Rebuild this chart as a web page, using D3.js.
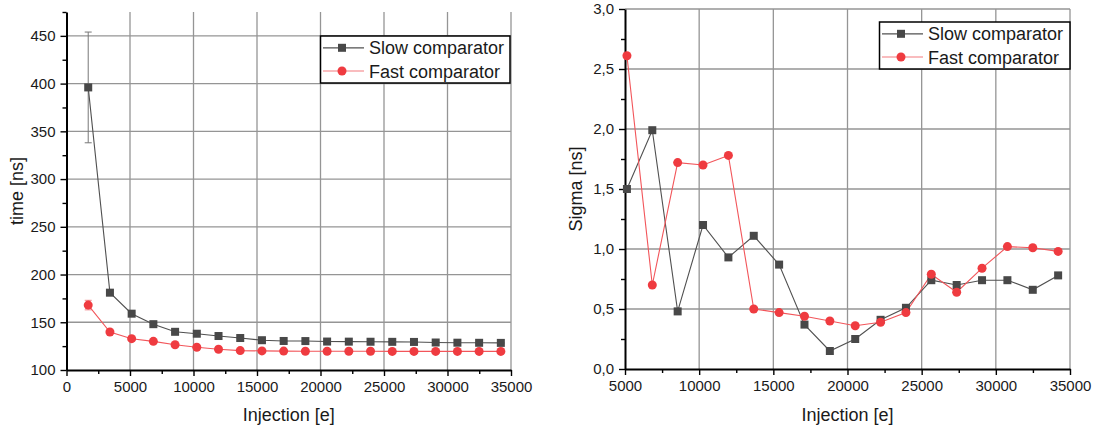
<!DOCTYPE html>
<meta charset="utf-8">
<script src="https://d3js.org/d3.v7.min.js"></script>
<style>
  body { margin: 0; background: #fff; }
  svg text { font-family: "Liberation Sans", Arial, sans-serif; fill: #1a1a1a; }
</style>
<div id="chart"></div>
<script>

  // injection values (e)
  var injection = [1710, 3420, 5130, 6840, 8550, 10260, 11970, 13680, 15390, 17100,
    18810, 20520, 22230, 23940, 25650, 27360, 29070, 30780, 32490, 34200];

  // left panel: mean time [ns]
  var timeSlow = [396, 181, 159, 148, 140, 138, 135.6, 133.5, 131.2, 130.4,
    130.3, 129.8, 129.7, 129.6, 129.5, 129.4, 128.8, 128.6, 128.5, 128.4];
  var timeFast = [168, 139.8, 132.8, 130, 126.5, 123.8, 121.7, 120.3, 120, 119.8,
    119.7, 119.6, 119.6, 119.6, 119.5, 119.5, 119.5, 119.5, 119.5, 119.5];
  var timeSlowErr = [58, 3, 1.5, 1, 1, 0.5, 0.5, 0.5, 0.5, 0.5,
    0.5, 0.5, 0.5, 0.5, 0.5, 0.5, 0.5, 0.5, 0.5, 0.5];
  var timeFastErr = [5, 1.5, 1, 1, 0.5, 0.5, 0.5, 0.5, 0.5, 0.5,
    0.5, 0.5, 0.5, 0.5, 0.5, 0.5, 0.5, 0.5, 0.5, 0.5];

  // right panel: sigma [ns] (starts at the 3rd injection value)
  var sigmaInjection = injection.slice(2);
  var sigmaSlow = [1.50, 1.99, 0.48, 1.20, 0.93, 1.11, 0.87, 0.37, 0.15, 0.25,
    0.41, 0.51, 0.74, 0.70, 0.74, 0.74, 0.66, 0.78];
  var sigmaFast = [2.61, 0.70, 1.72, 1.70, 1.78, 0.50, 0.47, 0.44, 0.40, 0.36,
    0.39, 0.47, 0.79, 0.64, 0.84, 1.02, 1.01, 0.98];

  var legendNames = ["Slow comparator", "Fast comparator"];
  var slowColor = "#484848", slowLine = "#505050";
  var fastColor = "#ef3b40", fastLine = "#f2555a";

  var svg = d3.select("#chart")
    .append("svg")
    .attr("width", 1096)
    .attr("height", 432);

  var fmtComma = function (d) { return d3.format(".1f")(d).replace(".", ","); };

  function drawPanel(p) {
    var x = d3.scaleLinear().domain(p.xDomain).range([p.left, p.right]);
    var y = d3.scaleLinear().domain(p.yDomain).range([p.bottom, p.top]);
    var g = svg.append("g");

    // grid
    g.append("g").selectAll("line")
      .data(p.xTicks.slice(1))
      .enter().append("line")
      .attr("x1", function (d) { return x(d); })
      .attr("x2", function (d) { return x(d); })
      .attr("y1", p.top).attr("y2", p.bottom)
      .attr("stroke", "#959595").attr("stroke-width", 1.3);
    g.append("g").selectAll("line")
      .data(p.yTicks.slice(1))
      .enter().append("line")
      .attr("y1", function (d) { return y(d); })
      .attr("y2", function (d) { return y(d); })
      .attr("x1", p.left).attr("x2", p.right)
      .attr("stroke", "#959595").attr("stroke-width", 1.3);

    // minor ticks
    g.append("g")
      .attr("transform", "translate(0," + p.bottom + ")")
      .call(d3.axisBottom(x).tickValues(p.xMinor).tickSize(4).tickFormat(""))
      .call(function (a) { a.select(".domain").remove(); });
    g.append("g")
      .attr("transform", "translate(" + p.left + ",0)")
      .call(d3.axisLeft(y).tickValues(p.yMinor).tickSize(4).tickFormat(""))
      .call(function (a) { a.select(".domain").remove(); });

    // major axes
    var xa = g.append("g")
      .attr("transform", "translate(0," + p.bottom + ")")
      .call(d3.axisBottom(x).tickValues(p.xTicks).tickSize(6).tickSizeOuter(0).tickPadding(5).tickFormat(d3.format("d")));
    var ya = g.append("g")
      .attr("transform", "translate(" + p.left + ",0)")
      .call(d3.axisLeft(y).tickValues(p.yTicks).tickSize(6).tickSizeOuter(0).tickPadding(5).tickFormat(p.yFormat));
    [xa, ya].forEach(function (a) {
      a.select(".domain").attr("stroke", "#000").attr("stroke-width", 2);
      a.selectAll("text").style("font-size", "15px").style("font-family", "Liberation Sans, Arial, sans-serif").attr("fill", "#1a1a1a");
    });
    g.selectAll(".tick line").attr("stroke", "#000").attr("stroke-width", 1.4);

    // axis titles
    g.append("text")
      .attr("x", (p.left + p.right) / 2).attr("y", 421)
      .attr("text-anchor", "middle").style("font-size", "18px")
      .text("Injection [e]");
    g.append("text")
      .attr("transform", "translate(" + p.yTitleX + "," + ((p.top + p.bottom) / 2) + ") rotate(-90)")
      .attr("text-anchor", "middle").style("font-size", "18px")
      .text(p.yTitle);

    var line = d3.line()
      .x(function (d) { return x(d[0]); })
      .y(function (d) { return y(d[1]); });

    var slow = p.xs.map(function (v, i) { return [v, p.slow[i], p.slowErr ? p.slowErr[i] : 0]; });
    var fast = p.xs.map(function (v, i) { return [v, p.fast[i], p.fastErr ? p.fastErr[i] : 0]; });

    // error bars
    function errBars(data, color) {
      var eb = g.append("g").attr("stroke", color).attr("stroke-width", 1).attr("fill", "none");
      data.filter(function (d) { return d[2] > 0; }).forEach(function (d) {
        var cx = x(d[0]);
        eb.append("line").attr("x1", cx).attr("x2", cx).attr("y1", y(d[1] - d[2])).attr("y2", y(d[1] + d[2]));
        eb.append("line").attr("x1", cx - 3.5).attr("x2", cx + 3.5).attr("y1", y(d[1] - d[2])).attr("y2", y(d[1] - d[2]));
        eb.append("line").attr("x1", cx - 3.5).attr("x2", cx + 3.5).attr("y1", y(d[1] + d[2])).attr("y2", y(d[1] + d[2]));
      });
    }
    errBars(slow, "#777");
    errBars(fast, "#f08a8d");

    g.append("path").datum(slow).attr("d", line)
      .attr("fill", "none").attr("stroke", slowLine).attr("stroke-width", 1.1);
    g.append("path").datum(fast).attr("d", line)
      .attr("fill", "none").attr("stroke", fastLine).attr("stroke-width", 1.1);

    g.append("g").selectAll("rect").data(slow).enter().append("rect")
      .attr("x", function (d) { return x(d[0]) - 4; })
      .attr("y", function (d) { return y(d[1]) - 4; })
      .attr("width", 8).attr("height", 8)
      .attr("fill", slowColor);
    g.append("g").selectAll("circle").data(fast).enter().append("circle")
      .attr("cx", function (d) { return x(d[0]); })
      .attr("cy", function (d) { return y(d[1]); })
      .attr("r", 4.5)
      .attr("fill", fastColor);

    // legend
    var L = p.legend;
    g.append("rect")
      .attr("x", L.x).attr("y", L.y).attr("width", L.w).attr("height", 47)
      .attr("fill", "#fff").attr("stroke", "#000").attr("stroke-width", 1.5);
    legendNames.forEach(function (name, i) {
      var ly = L.y + 11.8 + i * 23.2;
      var isSlow = i === 0;
      g.append("line")
        .attr("x1", L.x + 2.5).attr("x2", L.x + 43.5).attr("y1", ly).attr("y2", ly)
        .attr("stroke", isSlow ? slowLine : "#f47a7e").attr("stroke-width", 1.2);
      if (isSlow) {
        g.append("rect").attr("x", L.x + 21.5 - 4).attr("y", ly - 4)
          .attr("width", 8).attr("height", 8).attr("fill", slowColor);
      } else {
        g.append("circle").attr("cx", L.x + 21.5).attr("cy", ly).attr("r", 4.5).attr("fill", fastColor);
      }
      g.append("text")
        .attr("x", L.x + 48.5).attr("y", ly + 6.5)
        .style("font-size", "18px")
        .text(name);
    });
  }

  drawPanel({
    left: 66.5, right: 511, top: 12, bottom: 370,
    xDomain: [0, 35000], yDomain: [100, 475],
    xTicks: d3.range(0, 35001, 5000), xMinor: d3.range(2500, 35000, 5000),
    yTicks: d3.range(100, 451, 50), yMinor: d3.range(125, 476, 50),
    yFormat: d3.format("d"),
    yTitle: "time [ns]", yTitleX: 23,
    xs: injection, slow: timeSlow, fast: timeFast,
    slowErr: timeSlowErr, fastErr: timeFastErr,
    legend: { x: 320.5, y: 36, w: 189.5 }
  });

  drawPanel({
    left: 625, right: 1070, top: 9, bottom: 369,
    xDomain: [5000, 35000], yDomain: [0, 3],
    xTicks: d3.range(5000, 35001, 5000), xMinor: d3.range(7500, 35000, 5000),
    yTicks: d3.range(0, 3.01, 0.5), yMinor: d3.range(0.25, 3, 0.5),
    yFormat: fmtComma,
    yTitle: "Sigma [ns]", yTitleX: 582,
    xs: sigmaInjection, slow: sigmaSlow, fast: sigmaFast,
    legend: { x: 879.5, y: 22, w: 190.5 }
  });

</script>
